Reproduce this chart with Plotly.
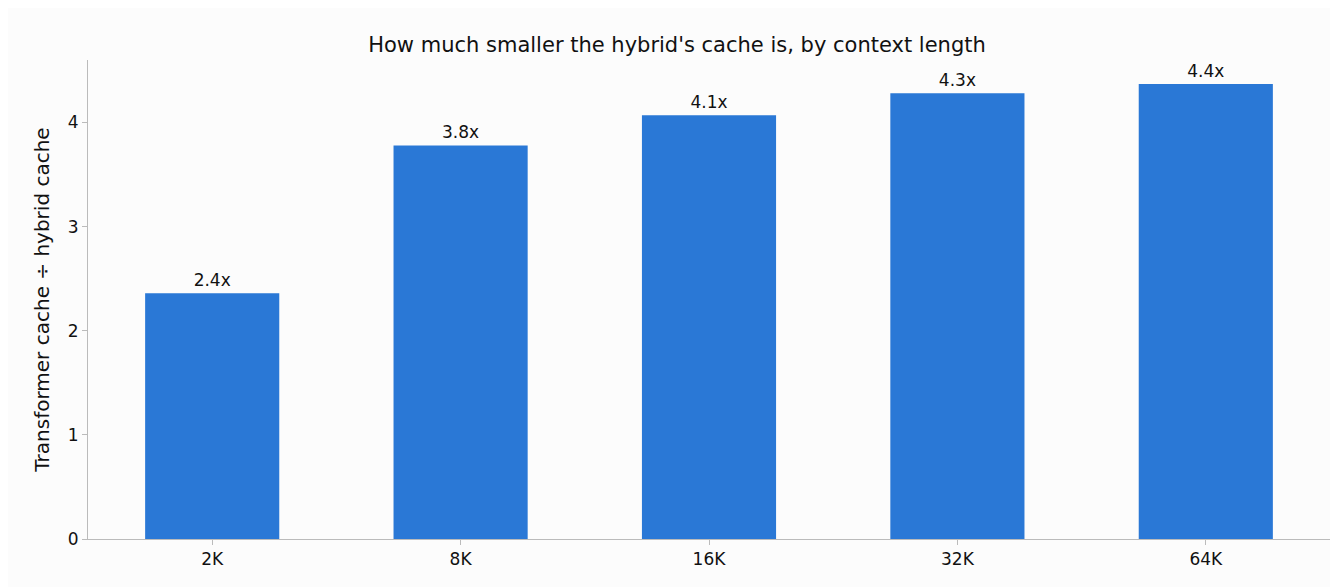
import plotly.graph_objects as go

contexts = ["2K", "8K", "16K", "32K", "64K"]
ratios = [2.36, 3.78, 4.07, 4.28, 4.37]
labels = ["2.4x", "3.8x", "4.1x", "4.3x", "4.4x"]

fig = go.Figure()
fig.add_trace(go.Bar(
    x=contexts, y=ratios, text=labels, textposition="outside",
    textfont=dict(size=17, color="#111"), cliponaxis=False,
    marker=dict(color="#2A78D6", line=dict(width=0)), width=0.54,
))

fig.update_layout(
    width=1338, height=587,
    paper_bgcolor="#FCFCFC", plot_bgcolor="#FCFCFC",
    font=dict(family="DejaVu Sans", size=17, color="#111"),
    title=dict(text="How much smaller the hybrid's cache is, by context length",
               x=0.5, xanchor="center", y=0.95, font=dict(size=21)),
    margin=dict(l=80, r=16, t=52, b=56),
    showlegend=False,
)
fig.update_xaxes(range=[-0.5, 4.5], showline=True, linecolor="#BBBBBB",
                 ticks="outside", tickcolor="#BBBBBB", ticklen=5)
fig.update_yaxes(range=[0, 4.6], dtick=1, showgrid=False, zeroline=False,
                 showline=True, linecolor="#BBBBBB", ticks="outside",
                 tickcolor="#BBBBBB", ticklen=5,
                 title=dict(text="Transformer cache ÷ hybrid cache", standoff=12))

fig.write_html("out.html")
